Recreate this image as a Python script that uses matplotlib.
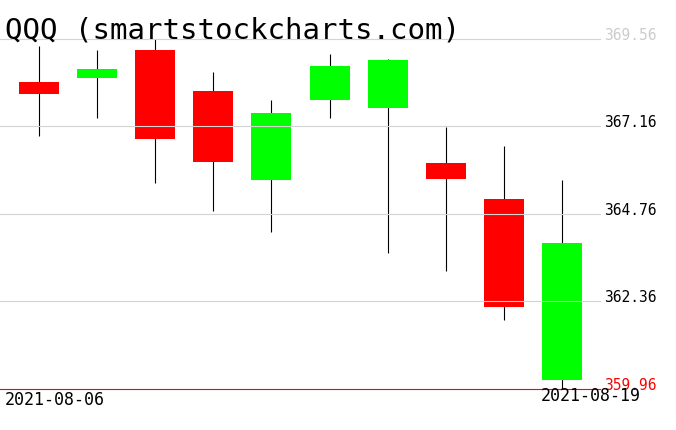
import numpy as np
import matplotlib
matplotlib.use('Agg')
import matplotlib.pyplot as plt
import matplotlib.transforms as mtransforms

# daily candles
opens = [368.39, 368.50, 369.27, 368.14, 365.68, 367.88, 367.66, 366.17, 365.18, 360.20]
highs = [369.38, 369.27, 369.56, 368.66, 367.89, 369.16, 369.02, 367.14, 366.63, 365.70]
lows = [366.89, 367.38, 365.61, 364.84, 364.28, 367.38, 363.69, 363.21, 361.85, 359.96]
closes = [368.04, 368.75, 366.83, 366.20, 367.54, 368.83, 368.99, 365.71, 362.20, 363.97]
price_levels = [369.56, 367.16, 364.76, 362.36, 359.96]
first_date = '2021-08-06'
last_date = '2021-08-19'
ticker = 'QQQ (smartstockcharts.com)'

W, H = 676, 431
fig = plt.figure(figsize=(W / 100, H / 100), dpi=100)
ax = fig.add_axes([0, (H - 390) / H, 600 / W, 350 / H])
ax.set_axis_off()

x = np.arange(len(opens))
o = np.array(opens)
c = np.array(closes)
up = c >= o
colors = np.where(up, '#00ff00', '#ff0000')

# wicks, then bodies, then the grid on top
ax.vlines(x, lows, highs, color='black', linewidth=0.8, zorder=1, clip_on=False)
ax.bar(x, np.abs(c - o), width=0.69, bottom=np.minimum(o, c), color=colors,
       linewidth=0, zorder=2)

mono = 'DejaVu Sans Mono'
trans = mtransforms.blended_transform_factory(ax.transAxes, ax.transData)
for i, lvl in enumerate(price_levels):
    if i == len(price_levels) - 1:
        ax.axhline(lvl, color='#ff0000', linewidth=0.8, zorder=3, clip_on=False)
        col = '#ff0000'
    else:
        ax.axhline(lvl, color='#d3d3d3', linewidth=0.8, zorder=3, clip_on=False)
        col = '#cccccc' if i == 0 else 'black'
    ax.text(1.007, lvl, '%.2f' % lvl, transform=trans, ha='left', va='baseline',
            fontsize=10.5, family=mono, color=col)

ax.set_xlim(-0.671, len(opens) - 1 + 0.654)
ax.set_ylim(min(price_levels), max(price_levels))

fig.text(5 / W, 1 - 38 / H, ticker, family=mono, fontsize=21, ha='left', va='baseline')
fig.text(5 / W, 1 - 405 / H, first_date, family=mono, fontsize=12, ha='left', va='baseline')
fig.text(541 / W, 1 - 401 / H, last_date, family=mono, fontsize=12, ha='left', va='baseline')

fig.savefig('out.png', dpi=100)
